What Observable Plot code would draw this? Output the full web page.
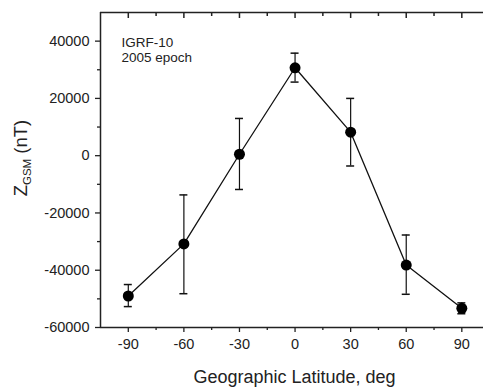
<!DOCTYPE html>
<html>
<head>
<meta charset="utf-8">
<script src="https://cdn.jsdelivr.net/npm/d3@7"></script>
<script src="https://cdn.jsdelivr.net/npm/@observablehq/plot@0.6"></script>
<style>
  html, body { margin: 0; padding: 0; background: #fff; overflow: hidden; }
  #chart svg { display: block; font-family: "Liberation Sans", Arial, sans-serif; }
</style>
</head>
<body>
<div id="chart"></div>
<script>
// Data
const latitude = [-90, -60, -30, 0, 30, 60, 90];
const zgsm     = [-49000, -30800, 500, 30700, 8200, -38200, -53300];
const errTop   = [-45000, -13700, 13000, 35800, 20000, -27700, -51400];
const errBot   = [-52700, -48200, -11800, 25700, -3600, -48400, -55200];

const xMajor = [-90, -60, -30, 0, 30, 60, 90];
const xMinor = [-75, -45, -15, 15, 45, 75];
const yMajor = [-60000, -40000, -20000, 0, 20000, 40000];
const yMinor = [-50000, -30000, -10000, 10000, 30000];

const annotation = ["IGRF-10\n2005 epoch"];
const xTitle = "Geographic Latitude, deg";

const data = latitude.map((lat, i) => ({lat, z: zgsm[i], hi: errTop[i], lo: errBot[i]}));

const axisColor = "#222";
const fs = 14.5;

const plot = Plot.plot({
  width: 483,
  height: 387,
  marginLeft: 100,
  marginRight: 0,
  marginTop: 12,
  marginBottom: 60,
  style: {background: "#fff", fontSize: fs + "px"},
  x: {domain: [-105, 101.7]},
  y: {domain: [-60000, 50000]},
  marks: [
    // frame lines
    Plot.ruleX([-105], {stroke: axisColor, strokeWidth: 1.5}),
    Plot.ruleY([-60000], {stroke: axisColor, strokeWidth: 1.5}),
    Plot.ruleY([50000], {stroke: axisColor, strokeWidth: 1.5}),
    // top frame: inward ticks, as rules hanging down from the top border
    Plot.ruleX(xMajor, {x: d => d, y1: 50000, y2: 47900, stroke: axisColor, strokeWidth: 1.5}),
    Plot.ruleX(xMinor, {x: d => d, y1: 50000, y2: 48600, stroke: axisColor, strokeWidth: 1.5}),
    // y axis
    Plot.axisY({ticks: yMajor, tickSize: 5, tickPadding: 6, tickFormat: d => String(d), label: null, stroke: axisColor, strokeWidth: 1.3, fontSize: fs, fill: "#222"}),
    Plot.axisY({ticks: yMinor, tickSize: 3, tickFormat: () => "", label: null, stroke: axisColor, strokeWidth: 1.3}),
    // x axis bottom
    Plot.axisX({ticks: xMajor, tickSize: 5, tickPadding: 6, tickFormat: d => String(d), label: null, stroke: axisColor, strokeWidth: 1.3, fontSize: fs, fill: "#222"}),
    Plot.axisX({ticks: xMinor, tickSize: 3, tickFormat: () => "", label: null, stroke: axisColor, strokeWidth: 1.3}),
    // error bars
    Plot.ruleX(data, {x: "lat", y1: "lo", y2: "hi", stroke: "#111", strokeWidth: 1.2}),
    Plot.ruleY(data, {y: "hi", x1: "lat", x2: "lat", insetLeft: -4, insetRight: -4, stroke: "#111", strokeWidth: 1.5}),
    Plot.ruleY(data, {y: "lo", x1: "lat", x2: "lat", insetLeft: -4, insetRight: -4, stroke: "#111", strokeWidth: 1.5}),
    // line and markers
    Plot.line(data, {x: "lat", y: "z", stroke: "#111", strokeWidth: 1.3}),
    Plot.dot(data, {x: "lat", y: "z", r: 5.5, fill: "#000", stroke: "none"}),
    // annotation
    Plot.text(annotation, {frameAnchor: "top-left", dx: 21, dy: 23, lineAnchor: "top", textAnchor: "start", fontSize: 13.5, lineHeight: 1.15, fill: "#222"})
  ]
});

const svg = d3.select(plot);
const xs = plot.scale("x");
const ys = plot.scale("y");

// x title
svg.append("text")
  .attr("x", xs.apply(0))
  .attr("y", 383)
  .attr("text-anchor", "middle")
  .attr("font-size", 18)
  .attr("fill", "#222")
  .text(xTitle);

// y title with subscript
const yt = svg.append("text")
  .attr("transform", `translate(27,${ys.apply(-1000)}) rotate(-90)`)
  .attr("text-anchor", "middle")
  .attr("font-size", 18.5)
  .attr("fill", "#222");
yt.append("tspan").text("Z");
yt.append("tspan").attr("font-size", 11.5).attr("dy", 4).text("GSM");
yt.append("tspan").attr("dy", -4).text(" (nT)");

document.getElementById("chart").appendChild(plot);
</script>
</body>
</html>
